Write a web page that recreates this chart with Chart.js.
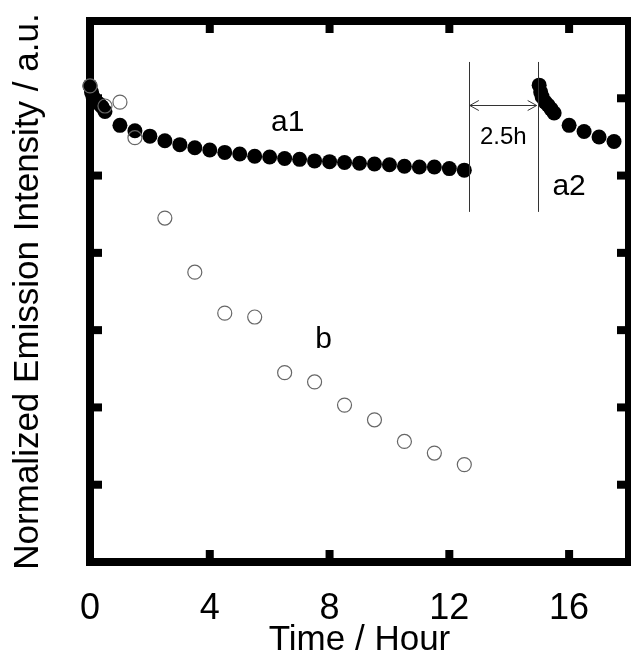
<!DOCTYPE html>
<html>
<head>
<meta charset="utf-8">
<script src="https://cdn.jsdelivr.net/npm/chart.js@4/dist/chart.umd.min.js"></script>
<style>
  html, body { margin: 0; padding: 0; background: #fff; overflow: hidden; }
  #wrap { width: 631px; height: 655px; position: relative; }
</style>
</head>
<body>
<div id="wrap"><canvas id="chart"></canvas></div>
<script>
// Emission decay: sample a1 (continuous run), a2 (after a 2.5 h pause), and sample b
const a1Time = [0, 0.05, 0.1, 0.2, 0.3, 0.4, 0.5, 1, 1.5, 2, 2.5, 3, 3.5, 4, 4.5, 5, 5.5,
                6, 6.5, 7, 7.5, 8, 8.5, 9, 9.5, 10, 10.5, 11, 11.5, 12, 12.5];
const a1Value = [6.16, 6.08, 6.02, 5.96, 5.93, 5.89, 5.83, 5.65, 5.58, 5.51, 5.45, 5.40, 5.36,
                 5.33, 5.30, 5.28, 5.25, 5.24, 5.22, 5.21, 5.19, 5.18, 5.17, 5.16, 5.15, 5.14,
                 5.12, 5.11, 5.11, 5.09, 5.07];

const a2Time = [15.0, 15.05, 15.1, 15.2, 15.3, 15.4, 15.5, 16, 16.5, 17, 17.5];
const a2Value = [6.17, 6.08, 6.02, 5.95, 5.91, 5.86, 5.81, 5.65, 5.57, 5.50, 5.44];

const bTime = [0, 0.5, 1, 1.5, 2.5, 3.5, 4.5, 5.5, 6.5, 7.5, 8.5, 9.5, 10.5, 11.5, 12.5];
const bValue = [6.16, 5.90, 5.95, 5.49, 4.45, 3.75, 3.22, 3.17, 2.45, 2.33, 2.03, 1.84, 1.56, 1.41, 1.26];

// Axis ticks
const xTicks = [0, 4, 8, 12, 16];
const yTicks = [1, 2, 3, 4, 5, 6];

// Pause markers (hours) and label positions
const pauseStart = 12.65;
const pauseEnd = 14.95;
const pauseLabel = '2.5h';
const seriesLabels = [
  { text: 'a1', x: 6.6, y: 5.69 },
  { text: 'a2', x: 16.0, y: 4.85 },
  { text: 'b',  x: 7.8, y: 2.87 }
];

const toPoints = (xs, ys) => xs.map((x, i) => ({ x: x, y: ys[i] }));

const FONT = '"Liberation Sans", Arial, sans-serif';

// Thick box frame with inward ticks on all four sides
const framePlugin = {
  id: 'frame',
  beforeDatasetsDraw(chart) {
    const { ctx, chartArea: a, scales } = chart;
    const lw = 8, tl = 12;
    ctx.save();
    ctx.strokeStyle = '#000';
    ctx.fillStyle = '#000';
    ctx.lineWidth = lw;
    ctx.strokeRect(a.left, a.top, a.right - a.left, a.bottom - a.top);
    xTicks.forEach(v => {
      if (v === scales.x.min) return;
      const px = scales.x.getPixelForValue(v);
      ctx.fillRect(px - lw / 2, a.bottom - tl, lw, tl);
      ctx.fillRect(px - lw / 2, a.top, lw, tl);
    });
    yTicks.forEach(v => {
      const py = scales.y.getPixelForValue(v);
      ctx.fillRect(a.left, py - lw / 2, tl, lw);
      ctx.fillRect(a.right - tl, py - lw / 2, tl, lw);
    });
    ctx.restore();
  }
};

// Series labels, pause lines and the double arrow
const notePlugin = {
  id: 'notes',
  afterDatasetsDraw(chart) {
    const { ctx, scales } = chart;
    const X = v => scales.x.getPixelForValue(v);
    const Y = v => scales.y.getPixelForValue(v);
    ctx.save();
    ctx.fillStyle = '#000';
    ctx.textAlign = 'center';
    ctx.textBaseline = 'middle';
    ctx.font = '30px ' + FONT;
    seriesLabels.forEach(l => ctx.fillText(l.text, X(l.x), Y(l.y)));

    // vertical pause markers
    ctx.strokeStyle = '#333';
    ctx.lineWidth = 1;
    const yTop = Y(6.47), yBot = Y(4.53);
    [pauseStart, pauseEnd].forEach(t => {
      const px = Math.round(X(t)) + 0.5;
      ctx.beginPath();
      ctx.moveTo(px, yTop);
      ctx.lineTo(px, yBot);
      ctx.stroke();
    });

    // double-headed arrow
    const x1 = X(pauseStart) + 1, x2 = X(pauseEnd) - 1, ay = Math.round(Y(5.91)) + 0.5;
    ctx.beginPath();
    ctx.moveTo(x1, ay); ctx.lineTo(x2, ay);
    ctx.moveTo(x1 + 9, ay - 5); ctx.lineTo(x1, ay); ctx.lineTo(x1 + 9, ay + 5);
    ctx.moveTo(x2 - 9, ay - 5); ctx.lineTo(x2, ay); ctx.lineTo(x2 - 9, ay + 5);
    ctx.stroke();

    ctx.font = '24px ' + FONT;
    ctx.fillText(pauseLabel, X((pauseStart + pauseEnd) / 2), Y(5.49));
    ctx.restore();
  }
};

new Chart(document.getElementById('chart'), {
  type: 'scatter',
  data: {
    datasets: [
      {
        label: 'b',
        data: toPoints(bTime, bValue),
        pointRadius: 7,
        pointBorderWidth: 1.2,
        borderColor: '#666',
        backgroundColor: 'rgba(0,0,0,0)',
        pointHoverRadius: 7
      },
      {
        label: 'a1',
        data: toPoints(a1Time, a1Value),
        pointRadius: 7.5,
        pointBorderWidth: 0,
        borderColor: '#000',
        backgroundColor: '#000',
        pointHoverRadius: 7.5
      },
      {
        label: 'a2',
        data: toPoints(a2Time, a2Value),
        pointRadius: 7.5,
        pointBorderWidth: 0,
        borderColor: '#000',
        backgroundColor: '#000',
        pointHoverRadius: 7.5
      }
    ]
  },
  options: {
    responsive: true,
    maintainAspectRatio: false,
    animation: false,
    clip: false,
    layout: { autoPadding: false, padding: { top: 21, right: 2, left: 0, bottom: 0 } },
    plugins: { legend: { display: false }, tooltip: { enabled: false } },
    scales: {
      x: {
        type: 'linear',
        min: 0,
        max: 18,
        afterBuildTicks: s => { s.ticks = xTicks.map(v => ({ value: v })); },
        afterFit: s => { s.height = 93; s.paddingLeft = 0; s.paddingRight = 0; },
        grid: { display: false, drawTicks: false },
        border: { display: false },
        ticks: {
          color: '#000',
          padding: 29,
          maxRotation: 0,
          autoSkip: false,
          font: { family: FONT, size: 36, lineHeight: 1 }
        },
        title: {
          display: true,
          text: 'Time / Hour',
          color: '#000',
          padding: { top: 0, bottom: -3 },
          font: { family: FONT, size: 35, lineHeight: 1 }
        }
      },
      y: {
        type: 'linear',
        min: 0,
        max: 7,
        afterBuildTicks: s => { s.ticks = yTicks.map(v => ({ value: v })); },
        afterFit: s => { s.width = 90; s.paddingTop = 0; s.paddingBottom = 0; },
        grid: { display: false, drawTicks: false },
        border: { display: false },
        ticks: { display: false },
        title: {
          display: true,
          text: 'Normalized Emission Intensity / a.u.',
          color: '#000',
          padding: { top: 11, bottom: 0 },
          font: { family: FONT, size: 35, lineHeight: 1 }
        }
      }
    }
  },
  plugins: [framePlugin, notePlugin]
});
</script>
</body>
</html>
